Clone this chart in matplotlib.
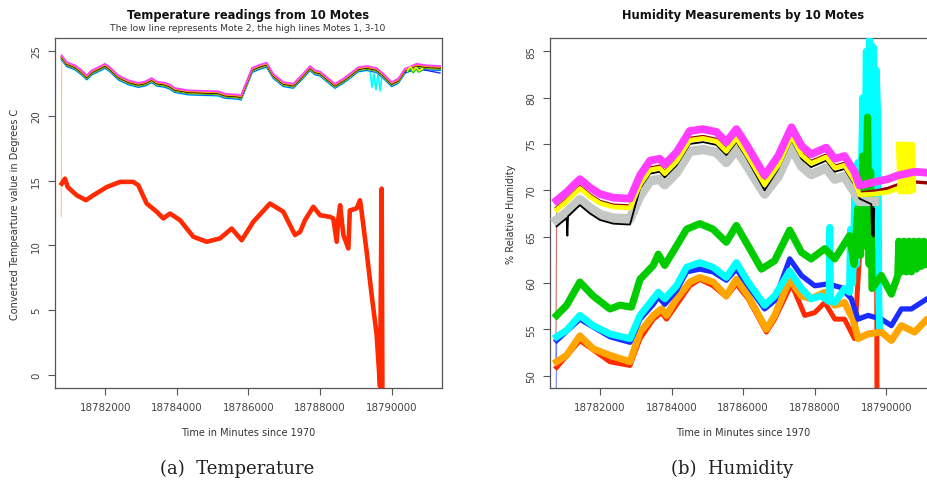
import matplotlib.pyplot as plt
from matplotlib.ticker import FixedLocator

# ---------------- temperature (left panel) ----------------
# centre of the bundle formed by motes 1, 3-10
temp_t = [18780782, 18780922, 18781154, 18781341, 18781480, 18781620, 18781804, 18781992,
          18782131, 18782363, 18782642, 18782922, 18783109, 18783296, 18783436, 18783668,
          18783807, 18783947, 18784318, 18785156, 18785343, 18785715, 18785790, 18786100,
          18786320, 18786508, 18786692, 18786972, 18787251, 18787486, 18787718, 18787858,
          18787997, 18788184, 18788416, 18788647, 18788834, 18789066, 18789301, 18789580,
          18789765, 18789999, 18790184, 18790371, 18790698, 18790977, 18791348]
temp_bundle = [24.52, 24.0, 23.75, 23.36, 22.98, 23.36, 23.6, 23.87,
               23.6, 22.98, 22.6, 22.4, 22.5, 22.77, 22.5, 22.4,
               22.25, 22.0, 21.82, 21.74, 21.56, 21.48, 21.42, 23.55,
               23.8, 23.95, 23.1, 22.46, 22.33, 22.98, 23.7, 23.36,
               23.28, 22.85, 22.33, 22.72, 23.1, 23.6, 23.7, 23.54,
               23.1, 22.46, 22.72, 23.49, 23.87, 23.75, 23.7]
# how far each mote sits from the bundle centre (degrees)
temp_motes = ['cyan', 'blue', 'gray', 'green', 'yellow', 'darkred', 'black', 'orange', 'magenta']
temp_offset = [-0.20, -0.16, -0.10, -0.08, -0.02, 0.0, 0.02, 0.06, 0.14]
orange_first = (18780770, 12.25)

# cyan drop-outs and the split tail at the end
cyan_drop_t = [18789400, 18789450, 18789500, 18789560, 18789620, 18789680, 18789720]
cyan_drop_v = [23.3, 22.2, 23.3, 22.0, 23.2, 21.9, 23.0]
blue_tail_t = [18790371, 18790698, 18790977, 18791348]
blue_tail_v = [23.35, 23.6, 23.5, 23.3]
yellow_tail_t = [18790450, 18790520, 18790600, 18790680, 18790760, 18790850]
yellow_tail_v = [23.45, 23.75, 23.4, 23.7, 23.45, 23.6]

# mote 2
mote2_t = [18780782, 18780874, 18780950, 18781201, 18781461, 18781665, 18782039, 18782411,
           18782782, 18782922, 18783156, 18783436, 18783620, 18783807, 18784087, 18784458,
           18784832, 18785204, 18785530, 18785810, 18786134, 18786600, 18786972, 18787299,
           18787441, 18787578, 18787810, 18788000, 18788276, 18788369, 18788463, 18788510,
           18788560, 18788650, 18788790, 18788830, 18789020, 18789114, 18789160, 18789301,
           18789440, 18789580, 18789674, 18789720, 18789740]
mote2_v = [14.77, 15.15, 14.5, 13.87, 13.49, 13.87, 14.5, 14.9,
           14.9, 14.64, 13.23, 12.6, 12.08, 12.46, 11.95, 10.67,
           10.28, 10.54, 11.3, 10.4, 11.82, 13.23, 12.6, 10.8,
           11.05, 11.95, 12.98, 12.33, 12.2, 12.08, 10.28, 12.08,
           13.1, 10.8, 9.77, 12.7, 12.85, 13.48, 12.6, 9.5,
           6.18, 3.1, -0.87, 14.38, -1.3]

# ---------------- humidity (right panel) ----------------
top_t = [18780790, 18781070, 18781440, 18781720, 18782000, 18782370, 18782840, 18783120,
         18783400, 18783670, 18783810, 18784140, 18784510, 18784880, 18785250, 18785530,
         18785810, 18786050, 18786600, 18786980, 18787350, 18787630, 18787900, 18788320,
         18788560, 18788830, 18789110, 18789250, 18789670, 18790040, 18790320, 18790790,
         18791140, 18791400]
magenta_h = [68.9, 69.8, 71.2, 70.3, 69.6, 69.2, 69.1, 71.6,
             73.2, 73.4, 72.8, 74.1, 76.4, 76.6, 76.3, 75.2,
             76.6, 75.2, 71.6, 73.7, 76.8, 74.8, 73.9, 74.6,
             73.4, 73.7, 72.0, 70.5, 70.9, 71.2, 71.6, 72.0,
             71.9, 72.0]
yellow_h = [67.9, 68.8, 70.2, 69.3, 68.6, 68.2, 68.1, 70.6,
            72.2, 72.4, 71.8, 73.1, 75.4, 75.6, 75.3, 74.2,
            75.6, 74.2, 70.6, 72.7, 75.8, 73.8, 72.9, 73.6,
            72.4, 72.7, 71.0, 69.5, 69.6, 69.8, 70.2]
yellow_block_t = [18790330, 18790380, 18790430, 18790480, 18790530, 18790580, 18790630,
                  18790680, 18790730, 18790770]
yellow_block_v = [75.0, 69.8, 75.0, 69.8, 75.0, 69.8, 75.0, 69.8, 75.0, 70.0]
gray_h = [66.8, 67.6, 69.0, 68.1, 67.4, 67.0, 66.9, 69.4,
          71.0, 71.2, 70.6, 71.9, 74.2, 74.4, 74.1, 73.0,
          74.4, 73.0, 69.6, 71.5, 74.6, 72.6, 71.7, 72.4,
          71.2, 71.5, 69.8, 68.8, 68.8]
black_t = [18780790, 18781070, 18781090, 18781110, 18781440, 18781720, 18782000, 18782370,
           18782840, 18783120, 18783400, 18783670, 18783810, 18784140, 18784510, 18784880,
           18785250, 18785530, 18785810, 18786050, 18786600, 18786980, 18787350, 18787630,
           18787900, 18788320, 18788560, 18788830, 18789110, 18789250, 18789580, 18789600,
           18789620, 18789640, 18789660]
black_h = [66.1, 67.0, 65.1, 67.2, 68.4, 67.5, 66.8, 66.4,
           66.3, 70.2, 71.8, 72.0, 71.4, 72.7, 75.0, 75.2,
           74.9, 73.8, 75.2, 73.8, 70.0, 72.3, 75.4, 73.4,
           72.5, 73.2, 72.0, 72.3, 70.6, 69.1, 68.5, 65.2,
           68.2, 65.0, 68.0]
darkred_t = [18780770] + top_t
darkred_h = [51.5, 68.1, 69.0, 70.4, 69.5, 68.8, 68.4, 68.3, 70.8,
             72.4, 72.6, 72.0, 73.3, 75.6, 75.8, 75.5, 74.4,
             75.8, 74.4, 70.8, 72.9, 76.0, 74.0, 73.1, 73.8,
             72.6, 72.9, 71.2, 69.7, 69.9, 70.2, 70.6, 70.9,
             70.8, 70.9]

green_t = [18780790, 18781070, 18781440, 18781810, 18782280, 18782560, 18782880, 18783120,
           18783490, 18783630, 18783810, 18784140, 18784420, 18784790, 18785160, 18785530,
           18785810, 18786140, 18786510, 18786880, 18787300, 18787630, 18787900, 18788280,
           18788560, 18788740, 18788970, 18789100, 18789200, 18789280, 18789344, 18789400,
           18789475, 18789520, 18789560, 18789600, 18789860, 18790140, 18790320, 18790350,
           18790420, 18790490, 18790560, 18790630, 18790700, 18790770, 18790840, 18790910,
           18790980, 18791050, 18791090]
green_h = [56.5, 57.6, 60.1, 58.6, 57.2, 57.6, 57.4, 60.4,
           61.9, 63.1, 61.9, 64.0, 65.8, 66.4, 65.8, 64.4,
           66.2, 64.0, 61.5, 62.4, 65.7, 63.3, 62.6, 63.7,
           62.6, 63.7, 65.1, 62.0, 68.0, 63.0, 73.7, 64.0,
           77.9, 62.0, 72.0, 59.4, 60.8, 58.8, 60.8, 64.5,
           61.2, 64.5, 61.2, 64.5, 61.2, 64.5, 61.5, 64.5,
           61.8, 64.5, 62.0]

cyan_t = [18780790, 18781070, 18781440, 18781810, 18782280, 18782840, 18783120, 18783490,
          18783630, 18783810, 18784140, 18784420, 18784790, 18785160, 18785530, 18785810,
          18786140, 18786600, 18786880, 18787300, 18787630, 18787900, 18788180, 18788400,
          18788420, 18788440, 18788560, 18788830, 18788970, 18789000, 18789060, 18789120,
          18789170, 18789205, 18789260, 18789344, 18789390, 18789440, 18789480, 18789531,
          18789580, 18789630, 18789680, 18789717, 18789763, 18789790, 18789810]
cyan_h = [54.2, 54.9, 56.5, 55.4, 54.5, 54.0, 56.5, 58.3,
          59.0, 58.3, 59.7, 61.7, 62.2, 61.7, 60.6, 62.2,
          60.1, 57.6, 58.6, 61.3, 59.4, 58.3, 58.6, 58.0,
          66.0, 58.2, 57.9, 59.4, 59.0, 65.8, 60.0, 70.0,
          62.0, 73.0, 64.0, 80.0, 68.0, 85.0, 70.0, 86.3,
          72.0, 85.5, 66.0, 83.0, 77.7, 58.0, 55.4]

blue_t = [18780770, 18780790, 18781440, 18782280, 18782840, 18783120, 18783490, 18783630,
          18783810, 18784140, 18784420, 18784790, 18785160, 18785530, 18785810, 18786140,
          18786600, 18786880, 18787300, 18787630, 18788000, 18788370, 18788740, 18789020,
          18789210, 18789490, 18789860, 18790140, 18790420, 18790700, 18791140, 18791400]
blue_h = [45.0, 53.8, 56.1, 54.2, 53.6, 56.1, 57.7, 58.5,
          57.7, 59.2, 61.2, 61.5, 61.2, 60.3, 61.5, 59.7,
          57.2, 58.1, 62.6, 60.8, 59.7, 59.9, 59.5, 58.3,
          56.1, 56.5, 56.1, 55.4, 57.2, 57.2, 58.3, 58.2]

orange_t = [18780790, 18781070, 18781440, 18781810, 18782280, 18782840, 18783120, 18783490,
            18783720, 18783860, 18784140, 18784510, 18784790, 18785160, 18785530, 18785810,
            18786140, 18786650, 18786880, 18787300, 18787630, 18787900, 18788280, 18788560,
            18788830, 18789070, 18789210, 18789490, 18789860, 18790140, 18790420, 18790790,
            18791140, 18791400]
orange_h = [51.5, 52.2, 54.3, 52.9, 52.2, 51.5, 54.7, 56.5,
            57.2, 56.5, 58.3, 60.1, 60.6, 60.1, 58.6, 60.4,
            58.6, 55.0, 56.5, 60.4, 58.6, 58.3, 59.0, 57.6,
            57.9, 56.1, 54.0, 54.5, 54.7, 53.8, 55.4, 54.7,
            56.1, 56.0]

red_t = [18780790, 18781440, 18782280, 18782840, 18783120, 18783490, 18783720, 18783860,
         18784510, 18784790, 18785160, 18785530, 18785810, 18786140, 18786650, 18786880,
         18787350, 18787720, 18788000, 18788280, 18788560, 18788830, 18789110, 18789330,
         18789450, 18789650, 18789700, 18789720, 18789740]
red_h = [50.9, 53.8, 51.5, 51.1, 54.0, 56.1, 56.8, 56.1,
         59.7, 60.4, 59.7, 58.5, 59.9, 58.3, 54.7, 56.1,
         59.9, 56.5, 56.8, 57.9, 56.1, 56.1, 54.0, 68.0,
         69.0, 69.5, 68.5, 80.7, 45.0]

xticks = [18782000, 18784000, 18786000, 18788000, 18790000]

COLORS = {'magenta': '#ff3dff', 'yellow': '#ffff00', 'darkred': '#990000', 'black': '#000000',
          'gray': '#c4c8c4', 'green': '#00cc00', 'cyan': '#00ffff', 'blue': '#1a2cff',
          'orange': '#ffa500', 'red': '#ff2a00'}
TXT = '#333333'

fig = plt.figure(figsize=(9.28, 4.81), dpi=100)
W, H = 928, 481
ax1 = fig.add_axes([55 / W, 1 - 389 / H, 387 / W, 350 / H])
ax2 = fig.add_axes([550 / W, 1 - 389 / H, 387 / W, 350 / H])


def style(ax, yticks):
    ax.xaxis.set_major_locator(FixedLocator(xticks))
    ax.set_xticklabels([str(v) for v in xticks])
    ax.yaxis.set_major_locator(FixedLocator(yticks))
    ax.set_yticklabels([str(v) for v in yticks], rotation=90, va='center')
    ax.tick_params(length=5, width=0.8, color='#555555', labelsize=7.4, labelcolor='#444444', pad=5)
    for s in ax.spines.values():
        s.set_color('#555555')
        s.set_linewidth(0.9)


# temperature
ax1.plot([orange_first[0], temp_t[0]], [orange_first[1], temp_bundle[0] + 0.06],
         color='#ffc878', lw=0.8, zorder=2)
for name, off in zip(temp_motes, temp_offset):
    ax1.plot(temp_t, [v + off for v in temp_bundle], color=COLORS[name], lw=1.3, zorder=3)
ax1.plot(cyan_drop_t, cyan_drop_v, color=COLORS['cyan'], lw=1.2, zorder=2)
ax1.plot(blue_tail_t, blue_tail_v, color=COLORS['blue'], lw=1.0, zorder=3)
ax1.plot(yellow_tail_t, yellow_tail_v, color=COLORS['yellow'], lw=1.6, zorder=3)
ax1.plot(yellow_tail_t, [v - 0.1 for v in yellow_tail_v], color=COLORS['green'], lw=0.8, zorder=3)
ax1.plot(mote2_t, mote2_v, color=COLORS['red'], lw=3.3, zorder=3)
ax1.set_xlim(18780595, 18791405)
ax1.set_ylim(-1.0, 26.0)
style(ax1, [0, 5, 10, 15, 20, 25])

# humidity, drawn in mote order so the overlaps match
# the first reading of the dark red and blue motes is a thin drop at the left edge
ax2.plot(darkred_t[:2], darkred_h[:2], color='#d07060', lw=0.8, zorder=2)
ax2.plot(blue_t[:2], blue_h[:2], color='#7080ff', lw=0.8, zorder=2)
hum = [
    (red_t, red_h, 'red', 3.6), (orange_t, orange_h, 'orange', 5.0),
    (blue_t[1:], blue_h[1:], 'blue', 3.8), (cyan_t, cyan_h, 'cyan', 5.0),
    (green_t, green_h, 'green', 5.2), (top_t[:len(gray_h)], gray_h, 'gray', 6.8),
    (black_t, black_h, 'black', 1.3), (darkred_t[1:], darkred_h[1:], 'darkred', 2.4),
    (top_t[:len(yellow_h)], yellow_h, 'yellow', 3.4), (yellow_block_t, yellow_block_v, 'yellow', 3.4),
    (top_t, magenta_h, 'magenta', 5.6),
]
for tt, vv, name, lw in hum:
    ax2.plot(tt, vv, color=COLORS[name], lw=lw, zorder=3)
ax2.set_xlim(18780605, 18791415)
ax2.set_ylim(48.67, 86.43)
style(ax2, [50, 55, 60, 65, 70, 75, 80, 85])

# titles and labels
fig.text(248 / W, 1 - 15 / H, 'Temperature readings from 10 Motes', ha='center', va='center',
         fontsize=8.3, fontweight='bold', color='#111111')
fig.text(248 / W, 1 - 29 / H, 'The low line represents Mote 2, the high lines Motes 1, 3-10',
         ha='center', va='center', fontsize=6.6, color=TXT)
fig.text(743 / W, 1 - 15 / H, 'Humidity Measurements by 10 Motes', ha='center', va='center',
         fontsize=8.3, fontweight='bold', color='#111111')
fig.text(248 / W, 1 - 433 / H, 'Time in Minutes since 1970', ha='center', va='center',
         fontsize=7, color=TXT)
fig.text(743 / W, 1 - 433 / H, 'Time in Minutes since 1970', ha='center', va='center',
         fontsize=7, color=TXT)
fig.text(15 / W, 1 - 214 / H, 'Converted Tempearture value in Degrees C', ha='center', va='center',
         rotation=90, fontsize=7, color=TXT)
fig.text(511 / W, 1 - 214 / H, '% Relative Humidity', ha='center', va='center',
         rotation=90, fontsize=7, color=TXT)

# sub-figure captions
fig.text(237 / W, 1 - 469 / H, '(a)  Temperature', ha='center', va='center',
         fontsize=13, family='DejaVu Serif', color='#222222')
fig.text(732 / W, 1 - 469 / H, '(b)  Humidity', ha='center', va='center',
         fontsize=13, family='DejaVu Serif', color='#222222')

fig.savefig('out.png', dpi=100)
